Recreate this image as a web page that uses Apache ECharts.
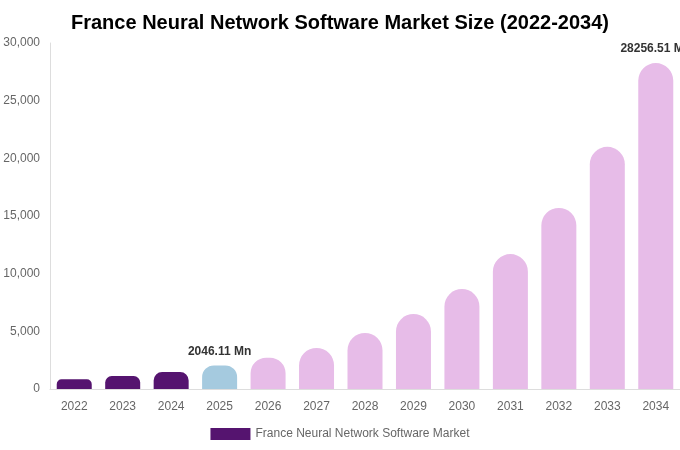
<!DOCTYPE html>
<html><head><meta charset="utf-8">
<script src="https://cdn.jsdelivr.net/npm/echarts@6/dist/echarts.min.js"></script>
<style>html,body{margin:0;padding:0;background:#fff}#c{width:680px;height:450px}</style>
</head><body><div id="c"></div>
<script>
const categories = ['2022','2023','2024','2025','2026','2027','2028','2029','2030','2031','2032','2033','2034'];
const values = [840, 1130, 1470, 2046.11, 2710, 3560, 4860, 6500, 8670, 11700, 15700, 21000, 28256.51];
const yTicks = [0, 5000, 10000, 15000, 20000, 25000, 30000];
const labelled = ['2025', '2034'];
const seriesName = 'France Neural Network Software Market';
const colorHist = '#55146f', colorBase = '#a5cadf', colorFore = '#e7bce8';

const plotHeight = 346;
const yMax = yTicks[yTicks.length - 1];
const chart = echarts.init(document.getElementById('c'));
const data = values.map((v, i) => {
  const y = +categories[i];
  const color = y < 2025 ? colorHist : (y === 2025 ? colorBase : colorFore);
  const r = Math.min(17.5, v / yMax * plotHeight / 2);
  return {
    value: v,
    itemStyle: { color: color, borderRadius: [r, r, 0, 0] },
    label: { show: labelled.includes(categories[i]) }
  };
});
chart.setOption({
  animation: false,
  title: {
    text: 'France Neural Network Software Market Size (2022-2034)',
    left: 'center', top: 8,
    textStyle: { fontSize: 20, fontWeight: 'bold', color: '#000', fontFamily: 'Liberation Sans, Arial, sans-serif' }
  },
  grid: { left: 50, right: 0, top: 43, bottom: 61 },
  legend: {
    bottom: 5, left: 'center',
    itemWidth: 40, itemHeight: 12, icon: 'rect',
    textStyle: { color: '#666', fontSize: 12, fontFamily: 'Liberation Sans, Arial, sans-serif' },
    data: [{ name: seriesName, itemStyle: { color: colorHist } }]
  },
  xAxis: {
    type: 'category', data: categories,
    axisLine: { lineStyle: { color: '#ddd' } },
    axisTick: { show: false },
    axisLabel: { color: '#666', fontSize: 12, margin: 12, fontFamily: 'Liberation Sans, Arial, sans-serif' }
  },
  yAxis: {
    type: 'value', min: yTicks[0], max: yMax, interval: yTicks[1] - yTicks[0],
    axisLine: { show: true, lineStyle: { color: '#ddd' } },
    splitLine: { show: false },
    axisTick: { show: false },
    axisLabel: { color: '#666', fontSize: 12, margin: 10, fontFamily: 'Liberation Sans, Arial, sans-serif',
      formatter: v => v.toLocaleString('en-US') }
  },
  series: [{
    name: seriesName, type: 'bar', data: data, barWidth: 35,
    label: {
      position: 'top', distance: 8, color: '#333', fontWeight: 'bold', fontSize: 12,
      fontFamily: 'Liberation Sans, Arial, sans-serif',
      formatter: p => p.value + ' Mn'
    }
  }]
});
</script></body></html>
